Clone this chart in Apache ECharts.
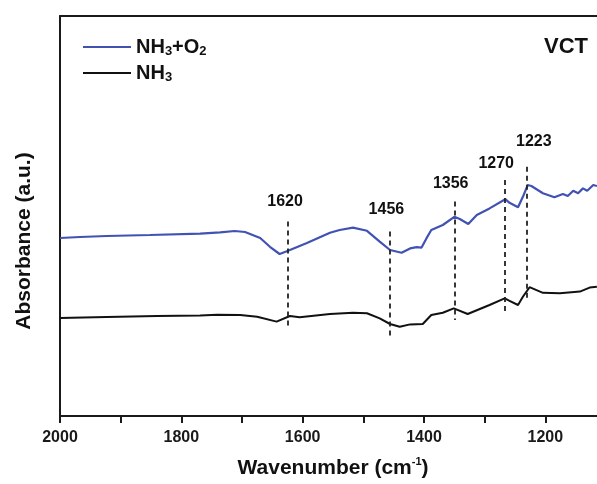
<!DOCTYPE html>
<html>
<head>
<meta charset="utf-8">
<script src="https://cdn.jsdelivr.net/npm/echarts@6/dist/echarts.min.js"></script>
<style>
html,body{margin:0;padding:0;background:#fff;}
#chart{width:597px;height:484px;}
</style>
</head>
<body>
<div id="chart"></div>
<script>
// ---- data ----
var wnBlue = [2000,1967,1923,1852,1769,1736,1712,1695,1670,1654,1638,1624,1605,1593,1555,1539,1517,1494,1473,1456,1437,1423,1412,1404,1396,1388,1369,1350,1341,1327,1313,1292,1266,1259,1245,1237,1229,1223,1204,1185,1171,1163,1154,1146,1138,1131,1121,1115];
var absBlue = [44.5,44.75,45,45.25,45.6,45.9,46.25,46,44.5,42.3,40.5,41.3,42.5,43.25,45.8,46.5,47.1,46.3,43.6,41.5,40.8,41.9,42.2,42.1,44.4,46.5,47.75,49.8,49.25,48,50.25,51.9,54.2,53.3,52.2,54.8,57.75,57.5,55.7,54.7,55.5,55,56.3,55.7,56.9,56.3,57.75,57.5];
var wnBlack = [2000,1923,1840,1769,1741,1703,1675,1643,1621,1605,1555,1517,1494,1473,1456,1440,1423,1402,1388,1369,1351,1328,1292,1267,1259,1245,1237,1226,1204,1176,1143,1127,1115];
var absBlack = [24.5,24.75,25,25.1,25.3,25.25,24.8,23.6,25,24.7,25.5,25.8,25.7,24.4,23,22.3,22.9,23,25.25,25.8,26.9,25.5,27.75,29.4,28.8,27.75,29.8,32.2,30.8,30.7,31.1,32.1,32.3];
var seriesNames = ['NH3+O2','NH3'];
var xTicks = [1200,1400,1600,1800,2000];
var peakLabels = ['1620','1456','1356','1270','1223'];
var peakLinePos = [1624,1456,1350,1267,1230];
var peakLineTop = [48.6,46.1,53.6,59,62.3];
var peakLineBottom = [22.3,19.75,24,25.8,28.6];
var peakLabelX = [1629,1462,1356,1281,1219];
var peakLabelY = [53.6,51.5,58.2,63.2,68.6];
var panelLabel = 'VCT';
var xTitle = ['Wavenumber (cm','-1',')'];
var yTitle = 'Absorbance (a.u.)';

var FONT = "'Liberation Sans', Arial, Helvetica, sans-serif";
var chart = echarts.init(document.getElementById('chart'), null, {renderer:'canvas'});

function zip(a,b){ return a.map(function(v,i){ return [v,b[i]]; }); }

var markData = peakLinePos.map(function(x,i){
  return [{coord:[x, peakLineTop[i]]},{coord:[x, peakLineBottom[i]]}];
});
var labelData = peakLabelX.map(function(x,i){ return {value:[x, peakLabelY[i]], name: peakLabels[i]}; });

function legendFmt(name){
  if(name === 'NH3+O2') return '{m|NH}{s|3}{m|+O}{s|2}';
  return '{m|NH}{s|3}';
}

var axisLineStyle = {color:'#1a1a1a', width:2};

var option = {
  animation:false,
  backgroundColor:'#fff',
  grid:{left:60, top:16, width:546, height:400, containLabel:false, outerBoundsMode:'none'},
  legend:{
    orient:'vertical', left:78, top:32,
    itemWidth:48, itemHeight:2, itemGap:5,
    icon:'rect',
    data:seriesNames,
    formatter:legendFmt,
    textStyle:{
      fontFamily:FONT, fontWeight:'bold', color:'#111',
      rich:{
        m:{fontSize:20, fontWeight:'bold', fontFamily:FONT, color:'#111', lineHeight:22},
        s:{fontSize:13, fontWeight:'bold', fontFamily:FONT, color:'#111', lineHeight:16, verticalAlign:'bottom'}
      }
    }
  },
  xAxis:[{
    type:'value', min:1100, max:2000, interval:100, inverse:true,
    axisLine:{show:true, onZero:false, lineStyle:axisLineStyle},
    axisTick:{show:true, length:7, lineStyle:{color:'#1a1a1a', width:2}},
    axisLabel:{
      margin:14, fontSize:16, fontWeight:'bold', fontFamily:FONT, color:'#1a1a1a',
      formatter:function(v){ return xTicks.indexOf(v) >= 0 ? String(v) : ''; }
    },
    splitLine:{show:false},
    name:'{m|' + xTitle[0] + '}{sup|' + xTitle[1] + '}{m|' + xTitle[2] + '}',
    nameLocation:'middle', nameGap:40,
    nameTextStyle:{
      rich:{
        m:{fontSize:21, fontWeight:'bold', fontFamily:FONT, color:'#111', lineHeight:24},
        sup:{fontSize:11, fontWeight:'bold', fontFamily:FONT, color:'#111', lineHeight:17, verticalAlign:'top'}
      }
    }
  },{
    type:'value', position:'top', min:1100, max:2000, inverse:true,
    axisLine:{show:true, onZero:false, lineStyle:axisLineStyle},
    axisTick:{show:false}, axisLabel:{show:false}, splitLine:{show:false}
  }],
  yAxis:{
    type:'value', min:0, max:100,
    axisLine:{show:true, onZero:false, lineStyle:axisLineStyle},
    axisTick:{show:false}, axisLabel:{show:false}, splitLine:{show:false}
  },
  graphic:[
    {type:'text', x:588, y:47, style:{text:panelLabel, font:'bold 22px ' + FONT, fill:'#111', textAlign:'right', textVerticalAlign:'middle'}},
    {type:'text', x:24, y:241, rotation:Math.PI/2, style:{text:yTitle, font:'bold 21px ' + FONT, fill:'#111', textAlign:'center', textVerticalAlign:'middle'}}
  ],
  series:[
    {
      name:seriesNames[0], type:'line', data:zip(wnBlue, absBlue),
      showSymbol:false, symbol:'none', color:'#4152b3',
      lineStyle:{color:'#4152b3', width:2.2}, z:3
    },
    {
      name:seriesNames[1], type:'line', data:zip(wnBlack, absBlack),
      showSymbol:false, symbol:'none', color:'#111',
      lineStyle:{color:'#111', width:2}, z:3,
      markLine:{
        silent:true, symbol:['none','none'],
        label:{show:false},
        lineStyle:{color:'#222', width:1.8, type:[5,4]},
        data:markData
      }
    },
    {
      name:'peaks', type:'scatter', data:labelData, symbolSize:0, silent:true,
      itemStyle:{color:'#000', opacity:1},
      label:{show:true, position:'inside', formatter:'{b}', fontSize:16, fontWeight:'bold', fontFamily:FONT, color:'#111'},
      z:5
    }
  ]
};
chart.setOption(option);
</script>
</body>
</html>
